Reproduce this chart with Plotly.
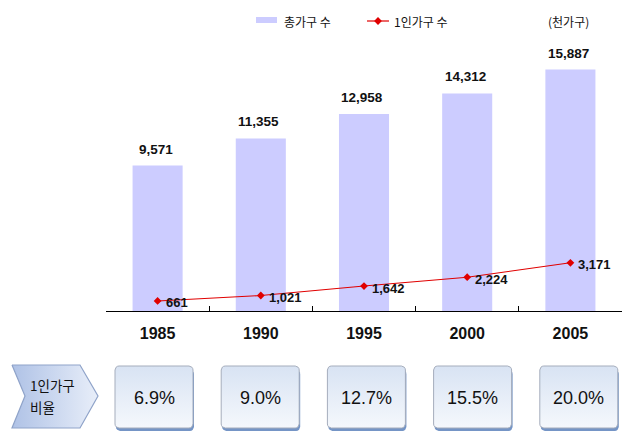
import math
import plotly.graph_objects as go

# ---- data ----
years = ["1985", "1990", "1995", "2000", "2005"]
total_households = [9571, 11355, 12958, 14312, 15887]   # 총가구 수 (천가구)
single_households = [661, 1021, 1642, 2224, 3171]       # 1인가구 수 (천가구)
single_ratio = ["6.9%", "9.0%", "12.7%", "15.5%", "20.0%"]
legend_names = ["총가구 수", "1인가구 수"]
unit_label = "(천가구)"
ratio_title = ["1인가구", "비율"]

W, H = 636, 432
PL, PR, PT, PB = 106, 622, 40, 311
Y_MAX = 17830

NUM_FONT = "Liberation Sans, Arial, sans-serif"
KR_FONT = "Noto Sans CJK KR, sans-serif"
BAR_COLOR = "#CCCCFF"
LINE_COLOR = "#E00000"

fig = go.Figure()

fig.add_trace(go.Bar(
    x=years, y=total_households, width=0.485, name=legend_names[0],
    marker=dict(color=BAR_COLOR, line=dict(width=0)), showlegend=False,
    hoverinfo="skip"))

fig.add_trace(go.Scatter(
    x=years, y=single_households, mode="lines+markers", name=legend_names[1],
    line=dict(color=LINE_COLOR, width=1.1, shape="linear"),
    marker=dict(symbol="diamond", size=6, color=LINE_COLOR),
    showlegend=False, hoverinfo="skip"))

annotations = []
for i, v in enumerate(total_households):
    annotations.append(dict(
        x=i, y=v, xref="x", yref="y", text=f"<b>{v:,}</b>", showarrow=False,
        yanchor="bottom", yshift=7, xshift=-2,
        font=dict(family=NUM_FONT, size=13.5, color="#111111")))
for i, v in enumerate(single_households):
    annotations.append(dict(
        x=i, y=v, xref="x", yref="y", text=f"<b>{v:,}</b>", showarrow=False,
        xanchor="left", xshift=6, yshift=-2,
        font=dict(family=NUM_FONT, size=13, color="#111111")))


def px(x):
    return x / W


def py(y):
    return 1 - y / H


# ---- legend (drawn on full-page overlay axes) ----
fig.add_trace(go.Scatter(
    x=[256, 277, 277, 256, 256], y=[17, 17, 23, 23, 17], xaxis="x2", yaxis="y2",
    mode="lines", fill="toself", fillcolor=BAR_COLOR, line=dict(width=0),
    showlegend=False, hoverinfo="skip"))
fig.add_trace(go.Scatter(
    x=[367, 389], y=[21, 21], xaxis="x2", yaxis="y2", mode="lines",
    line=dict(color=LINE_COLOR, width=1.2), showlegend=False, hoverinfo="skip"))
fig.add_trace(go.Scatter(
    x=[378], y=[21], xaxis="x2", yaxis="y2", mode="markers",
    marker=dict(symbol="diamond", size=6, color=LINE_COLOR),
    showlegend=False, hoverinfo="skip"))
annotations.append(dict(x=px(282), y=py(21), xref="paper", yref="paper", text=legend_names[0],
                        showarrow=False, xanchor="left", yanchor="middle",
                        font=dict(family=KR_FONT, size=12, color="#111111")))
annotations.append(dict(x=px(392), y=py(21), xref="paper", yref="paper", text=legend_names[1],
                        showarrow=False, xanchor="left", yanchor="middle",
                        font=dict(family=KR_FONT, size=12, color="#111111")))
annotations.append(dict(x=px(546), y=py(21), xref="paper", yref="paper", text=unit_label,
                        showarrow=False, xanchor="left", yanchor="middle",
                        font=dict(family=KR_FONT, size=12, color="#111111")))


# ---- bottom ratio row ----
def rounded_rect(x0, y0, x1, y1, r=4, n=4):
    xs, ys = [], []
    corners = [(x1 - r, y0 + r, -90, 0), (x1 - r, y1 - r, 0, 90),
               (x0 + r, y1 - r, 90, 180), (x0 + r, y0 + r, 180, 270)]
    for cx, cy, a0, a1 in corners:
        for k in range(n + 1):
            a = math.radians(a0 + (a1 - a0) * k / n)
            xs.append(cx + r * math.cos(a))
            ys.append(cy + r * math.sin(a))
    xs.append(xs[0])
    ys.append(ys[0])
    return xs, ys


# chevron
chev_x = [12, 80, 98, 80, 12, 25, 12]
chev_y = [365, 365, 396, 428, 428, 396, 365]
fig.add_trace(go.Scatter(
    x=chev_x, y=chev_y, xaxis="x2", yaxis="y2", mode="lines", fill="toself",
    fillgradient=dict(type="horizontal",
                      colorscale=[[0, "#AFC2E6"], [1, "#E8EEF9"]]),
    line=dict(color="#8FA3C9", width=1.2), showlegend=False, hoverinfo="skip"))
for line_text, ly in zip(ratio_title, [385, 407]):
    annotations.append(dict(x=px(28), y=py(ly), xref="paper", yref="paper",
                            text=line_text, showarrow=False, xanchor="left",
                            yanchor="middle", align="left",
                            font=dict(family=KR_FONT, size=13.5, color="#111111")))

for i, label in enumerate(single_ratio):
    cx = 154 + 106.2 * i
    x0, x1 = cx - 39, cx + 39
    sx, sy = rounded_rect(x0 + 1, 370, x1 + 1, 431, r=4)
    fig.add_trace(go.Scatter(
        x=sx, y=sy, xaxis="x2", yaxis="y2", mode="lines", fill="toself",
        fillcolor="#7595C6", line=dict(width=0), showlegend=False, hoverinfo="skip"))
    bx, by = rounded_rect(x0, 366, x1, 428, r=4)
    fig.add_trace(go.Scatter(
        x=bx, y=by, xaxis="x2", yaxis="y2", mode="lines", fill="toself",
        fillgradient=dict(type="vertical",
                          colorscale=[[0, "#F5F8FC"], [1, "#D8E3F3"]]),
        line=dict(color="#A5ADBC", width=1), showlegend=False, hoverinfo="skip"))
    annotations.append(dict(x=px(cx), y=py(398), xref="paper", yref="paper", text=label,
                            showarrow=False, xanchor="center", yanchor="middle",
                            font=dict(family=NUM_FONT, size=18, color="#111111")))

fig.update_layout(
    width=W, height=H,
    margin=dict(l=0, r=0, t=0, b=0),
    paper_bgcolor="white", plot_bgcolor="rgba(0,0,0,0)",
    showlegend=False,
    bargap=0.5,
    xaxis=dict(domain=[PL / W, PR / W], type="category", categoryorder="array",
               categoryarray=years, range=[-0.5, len(years) - 0.5], autorange=False,
               showline=True,
               linecolor="black", linewidth=1, ticks="inside", tickson="boundaries",
               ticklen=5, tickcolor="black", showgrid=False, zeroline=False,
               ticklabelstandoff=8, fixedrange=True, tickangle=0,
               tickfont=dict(family=NUM_FONT, size=16, color="#111111", weight="bold")),
    yaxis=dict(domain=[1 - PB / H, 1 - PT / H], range=[0, Y_MAX], visible=False,
               fixedrange=True),
    xaxis2=dict(domain=[0, 1], range=[0, W], visible=False, anchor="y2", fixedrange=True),
    yaxis2=dict(domain=[0, 1], range=[H, 0], visible=False, anchor="x2", fixedrange=True),
    annotations=annotations,
)

fig.write_html("out.html")
